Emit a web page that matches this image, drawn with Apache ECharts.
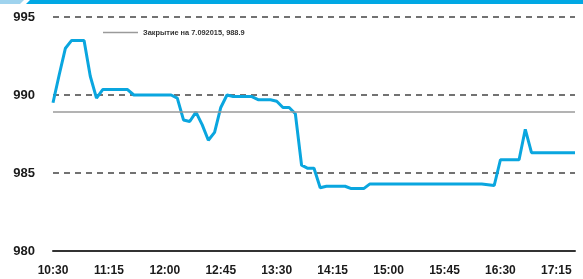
<!DOCTYPE html>
<html>
<head>
<meta charset="utf-8">
<script src="https://cdn.jsdelivr.net/npm/echarts@6/dist/echarts.min.js"></script>
<style>
  html, body { margin: 0; padding: 0; background: #fff; }
  #chart { width: 583px; height: 279px; }
</style>
</head>
<body>
<div id="chart"></div>
<script>
  // время торгов, шаг 5 минут
  var times = [
    '10:30','10:35','10:40','10:45','10:50','10:55','11:00','11:05','11:10',
    '11:15','11:20','11:25','11:30','11:35','11:40','11:45','11:50','11:55',
    '12:00','12:05','12:10','12:15','12:20','12:25','12:30','12:35','12:40',
    '12:45','12:50','12:55','13:00','13:05','13:10','13:15','13:20','13:25',
    '13:30','13:35','13:40','13:45','13:50','13:55','14:00','14:05','14:10',
    '14:15','14:20','14:25','14:30','14:35','14:40','14:45','14:50','14:55',
    '15:00','15:05','15:10','15:15','15:20','15:25','15:30','15:35','15:40',
    '15:45','15:50','15:55','16:00','16:05','16:10','16:15','16:20','16:25',
    '16:30','16:35','16:40','16:45','16:50','16:55','17:00','17:05','17:10',
    '17:15','17:20','17:25','17:30'
  ]
  var prices = [
    989.5, 991.3, 993.0, 993.5, 993.5, 993.5, 991.2, 989.8, 990.35,
    990.35, 990.35, 990.35, 990.35, 990.0, 990.0, 990.0, 990.0, 990.0,
    990.0, 990.0, 989.8, 988.4, 988.3, 988.9, 988.1, 987.1, 987.6,
    989.2, 990.0, 989.9, 989.9, 989.9, 989.9, 989.7, 989.7, 989.7,
    989.6, 989.2, 989.2, 988.8, 985.5, 985.3, 985.3, 984.05, 984.15,
    984.15, 984.15, 984.15, 984.0, 984.0, 984.0, 984.3, 984.3, 984.3,
    984.3, 984.3, 984.3, 984.3, 984.3, 984.3, 984.3, 984.3, 984.3,
    984.3, 984.3, 984.3, 984.3, 984.3, 984.3, 984.3, 984.25, 984.2,
    985.85, 985.85, 985.85, 985.85, 987.8, 986.3, 986.3, 986.3, 986.3,
    986.3, 986.3, 986.3, 986.3
  ]
  var closeValue = 988.9
  var closeLabel = 'Закрытие на 7.092015, 988.9'
  var yTicks = [980, 985, 990, 995]

  var chart = echarts.init(document.getElementById('chart'), null, { renderer: 'canvas' })
  chart.setOption({
    animation: false,
    textStyle: { fontFamily: 'Liberation Sans' },
    graphic: [
      { type: 'polygon', shape: { points: [[0, 0], [24, 0], [20, 4], [0, 4]] }, style: { fill: '#9fd3ee' } },
      { type: 'polygon', shape: { points: [[30, 0], [583, 0], [583, 4], [26, 4]] }, style: { fill: '#00a8e4' } }
    ],
    grid: { left: 53, right: 8, top: 17, bottom: 28 },
    legend: {
      data: [closeLabel],
      left: 98,
      top: 24,
      icon: 'rect',
      itemWidth: 35,
      itemHeight: 1.5,
      itemGap: 8,
      textStyle: { fontSize: 7.4, fontWeight: 'bold', color: '#333', fontFamily: 'Liberation Sans' }
    },
    xAxis: {
      type: 'category',
      data: times,
      boundaryGap: false,
      axisTick: { show: false },
      axisLine: { lineStyle: { color: '#333', width: 2 } },
      axisLabel: { interval: 8, margin: 14, fontSize: 12, fontWeight: 'bold', color: '#1a1a1a' }
    },
    yAxis: {
      type: 'value',
      min: yTicks[0],
      max: yTicks[yTicks.length - 1],
      interval: 5,
      axisLine: { show: false },
      axisTick: { show: false },
      axisLabel: { margin: 18, fontSize: 13, fontWeight: 'bold', color: '#1a1a1a' },
      splitLine: { lineStyle: { color: '#444', width: 1.5, type: [6, 5] } }
    },
    series: [
      {
        name: closeLabel,
        type: 'line',
        data: [],
        itemStyle: { color: '#9a9a9a' },
        lineStyle: { color: '#9a9a9a' },
        markLine: {
          silent: true,
          symbol: 'none',
          label: { show: false },
          lineStyle: { color: '#9a9a9a', width: 1.5, type: 'solid' },
          data: [{ yAxis: closeValue }]
        }
      },
      {
        name: 'price',
        type: 'line',
        data: prices,
        showSymbol: false,
        symbol: 'none',
        lineStyle: { color: '#0aa6df', width: 3 },
        z: 3
      }
    ]
  })
</script>
</body>
</html>
